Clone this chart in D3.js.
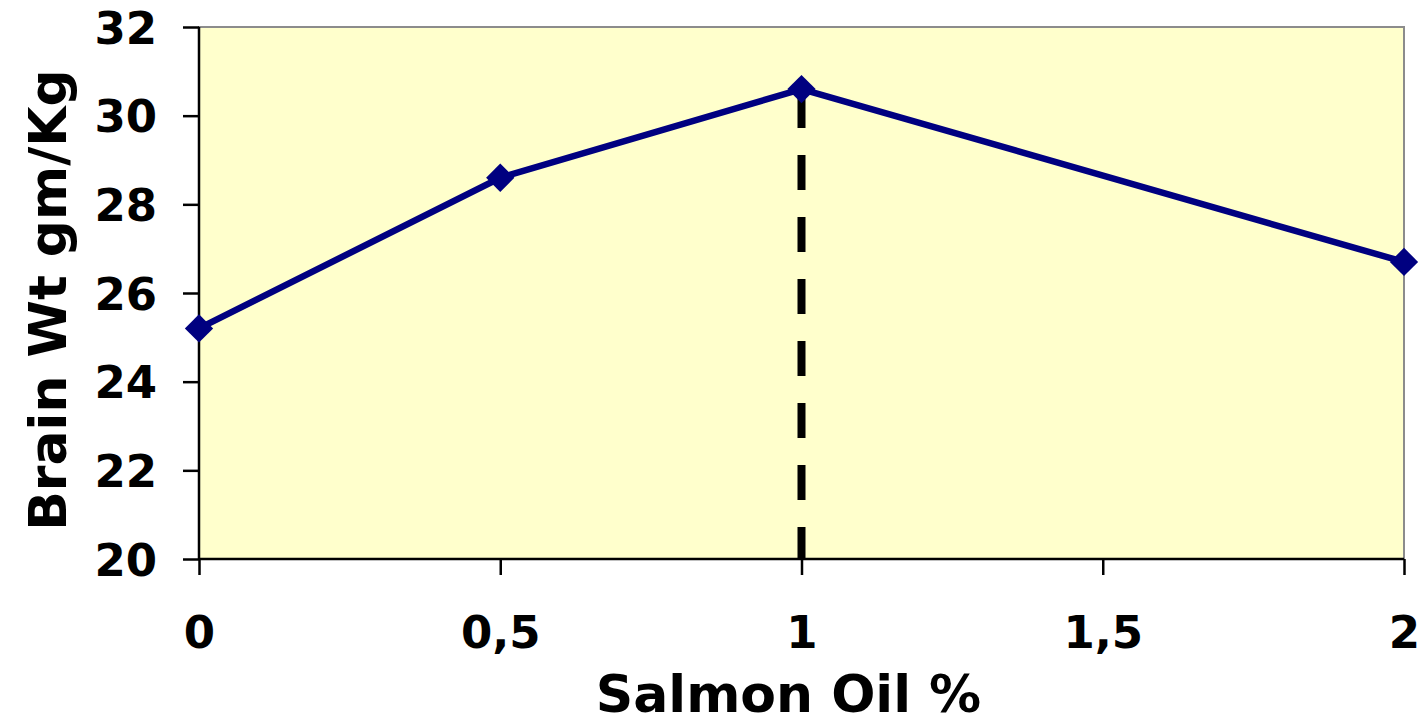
<!DOCTYPE html>
<html>
<head>
<meta charset="utf-8">
<script src="https://cdn.jsdelivr.net/npm/d3@7"></script>
<style>
  html, body { margin: 0; padding: 0; background: #ffffff; }
  svg { display: block; }
  text { font-family: "DejaVu Sans", Verdana, sans-serif; font-weight: bold; fill: #000; }
</style>
</head>
<body>
<svg id="chart" width="1424" height="725"></svg>
<script>
// Salmon oil dose vs. brain weight
const oilPct = [0, 0.5, 1, 2];
const brainWt = [25.2, 28.6, 30.6, 26.7];
const xTicks = [0, 0.5, 1, 1.5, 2];
const xTickLabels = ["0", "0,5", "1", "1,5", "2"];
const yTicks = [20, 22, 24, 26, 28, 30, 32];
const peakPct = 1;
const peakWt = 30.6;

const W = 1424, H = 725;
const margin = { top: 27, right: 20, bottom: 166, left: 199 };
const iw = W - margin.left - margin.right;
const ih = H - margin.top - margin.bottom;

const svg = d3.select("#chart");
const g = svg.append("g").attr("transform", `translate(${margin.left},${margin.top})`);

const x = d3.scaleLinear().domain([0, 2]).range([0, iw]);
const y = d3.scaleLinear().domain([20, 32]).range([ih, 0]);

// plot area
g.append("rect")
  .attr("x", 0).attr("y", 0).attr("width", iw).attr("height", ih)
  .attr("fill", "#FFFFCC")
  .attr("stroke", "#8c8c8c").attr("stroke-width", 2);

// dashed marker line at the peak
g.append("line")
  .attr("x1", x(peakPct)).attr("x2", x(peakPct))
  .attr("y1", y(peakWt) + 4).attr("y2", y(20))
  .attr("stroke", "#000").attr("stroke-width", 8)
  .attr("stroke-dasharray", "35,27");

// axes
const tickFont = sel => sel
  .style("font-size", "45px")
  .style("font-family", "'DejaVu Sans', Verdana, sans-serif")
  .style("font-weight", "bold");

const yAxis = d3.axisLeft(y).tickValues(yTicks).tickSize(16).tickFormat(d3.format("d"));
const yG = g.append("g").call(yAxis);
yG.select(".domain").attr("stroke", "#000").attr("stroke-width", 2.5).attr("d", `M0,${ih}V0`);
yG.selectAll(".tick line").attr("stroke", "#000").attr("stroke-width", 2.5);
yG.selectAll(".tick text").attr("x", -42).attr("dy", "0.36em").call(tickFont);

const xAxis = d3.axisBottom(x).tickValues(xTicks).tickSize(16)
  .tickFormat((d, i) => xTickLabels[i]);
const xG = g.append("g").attr("transform", `translate(0,${ih})`).call(xAxis);
xG.select(".domain").attr("stroke", "#000").attr("stroke-width", 2.5).attr("d", `M0,0H${iw}`);
xG.selectAll(".tick line").attr("stroke", "#000").attr("stroke-width", 2.5);
xG.selectAll(".tick text").attr("y", 89).attr("dy", 0).call(tickFont);

// series line
const pts = oilPct.map((d, i) => [d, brainWt[i]]);
g.append("path")
  .datum(pts)
  .attr("fill", "none")
  .attr("stroke", "#000080")
  .attr("stroke-width", 6.5)
  .attr("stroke-linejoin", "miter")
  .attr("d", d3.line().x(d => x(d[0])).y(d => y(d[1])));

// diamond markers
const diamond = d3.symbol().type(d3.symbolSquare).size(400);
g.selectAll(".marker")
  .data(pts)
  .join("path")
  .attr("class", "marker")
  .attr("transform", d => `translate(${x(d[0])},${y(d[1])}) rotate(45)`)
  .attr("d", diamond)
  .attr("fill", "#000080");

// axis titles
svg.append("text")
  .attr("x", margin.left + iw / 2 - 13)
  .attr("y", 712)
  .attr("text-anchor", "middle")
  .style("font-size", "52px")
  .text("Salmon Oil %");

svg.append("text")
  .attr("transform", `translate(66,300) rotate(-90)`)
  .attr("text-anchor", "middle")
  .style("font-size", "52px")
  .text("Brain Wt gm/Kg");
</script>
</body>
</html>
